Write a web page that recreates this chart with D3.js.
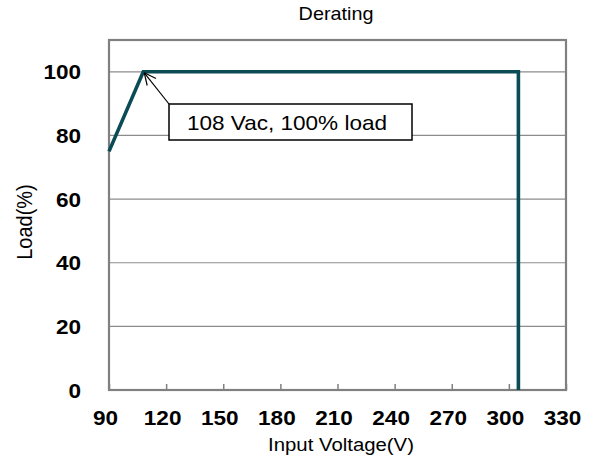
<!DOCTYPE html>
<html><head><meta charset="utf-8">
<script src="https://cdn.jsdelivr.net/npm/d3@7"></script>
<style>body{margin:0;background:#fff}svg{display:block}text{font-family:"Liberation Sans",Arial,sans-serif}</style>
</head><body>
<svg id="c" width="595" height="459"></svg>
<script>
const xTicks = [90,120,150,180,210,240,270,300,330];
const yTicks = [0,20,40,60,80,100];
const voltage = [90,108,305,305];
const load = [75,100,100,0];
const title = "Derating";
const xTitle = "Input Voltage(V)";
const yTitle = "Load(%)";
const annotText = "108 Vac, 100% load";
const annotPoint = [108,100];

const svg = d3.select("#c");
const L=109,R=566,T=40,B=390;
const x = d3.scaleLinear().domain([90,330]).range([L,R]);
const y = d3.scaleLinear().domain([0,110]).range([B,T]);
const SX = 1.1;

svg.append("g").selectAll("line").data(yTicks.filter(d=>d>0)).join("line")
  .attr("x1",L).attr("x2",R).attr("y1",d=>y(d)).attr("y2",d=>y(d))
  .attr("stroke","#8c8c8c").attr("stroke-width",1.2);

const xa = svg.append("g").attr("transform",`translate(0,${B})`)
  .call(d3.axisBottom(x).tickValues(xTicks).tickSizeInner(-6).tickSizeOuter(0).tickFormat(d3.format("d")));
xa.select(".domain").remove();
xa.selectAll(".tick line").attr("stroke","#808080").attr("stroke-width",1.5);
xa.selectAll(".tick text").attr("fill","#000").attr("font-size",20.5).attr("font-weight","bold")
  .attr("y",0).attr("dy",0).attr("transform",`translate(-4,35) scale(${SX},1)`)
  .style("font-family","Liberation Sans, Arial, sans-serif");

const ya = svg.append("g").attr("transform",`translate(${L},0)`)
  .call(d3.axisLeft(y).tickValues(yTicks).tickSize(0).tickFormat(d3.format("d")));
ya.select(".domain").remove();
ya.selectAll(".tick text").attr("fill","#000").attr("font-size",20.5).attr("font-weight","bold")
  .attr("x",0).attr("dy","0.35em").attr("transform",`translate(-28,0) scale(${SX},1)`)
  .style("font-family","Liberation Sans, Arial, sans-serif");

svg.append("rect").attr("x",L).attr("y",T).attr("width",R-L).attr("height",B-T)
  .attr("fill","none").attr("stroke","#808080").attr("stroke-width",2.2);

const line = d3.line().x((d,i)=>x(voltage[i])).y((d,i)=>y(load[i]));
svg.append("path").datum(voltage).attr("d",line)
  .attr("fill","none").attr("stroke","#0b4b56").attr("stroke-width",3.6)
  .attr("stroke-linejoin","miter");

const px = x(annotPoint[0]), py = y(annotPoint[1]);
const bx=169, by=104, bw=243, bh=36;
svg.append("line").attr("x1",bx).attr("y1",by).attr("x2",px+1).attr("y2",py+1)
  .attr("stroke","#000").attr("stroke-width",1.2);
const ang = Math.atan2(by-py, bx-px);
[0.45,-0.45].forEach(a=>{
  svg.append("line").attr("x1",px+1).attr("y1",py+1)
    .attr("x2",px+1+13*Math.cos(ang+a)).attr("y2",py+1+13*Math.sin(ang+a))
    .attr("stroke","#000").attr("stroke-width",1.2);
});
svg.append("rect").attr("x",bx).attr("y",by).attr("width",bw).attr("height",bh)
  .attr("fill","#fff").attr("stroke","#000").attr("stroke-width",1.5);
svg.append("text").attr("transform",`translate(287,${by+bh/2+7.5}) scale(${SX},1)`)
  .attr("text-anchor","middle").attr("font-size",20.5).attr("fill","#000").text(annotText);

svg.append("text").attr("transform",`translate(336,20) scale(${SX},1)`)
  .attr("text-anchor","middle").attr("font-size",18).text(title);
svg.append("text").attr("transform",`translate(341,451) scale(${SX},1)`)
  .attr("text-anchor","middle").attr("font-size",18.5).text(xTitle);
svg.append("text").attr("transform",`translate(32,222) rotate(-90) scale(1,${SX})`)
  .attr("text-anchor","middle").attr("font-size",20).text(yTitle);
</script>
</body></html>
